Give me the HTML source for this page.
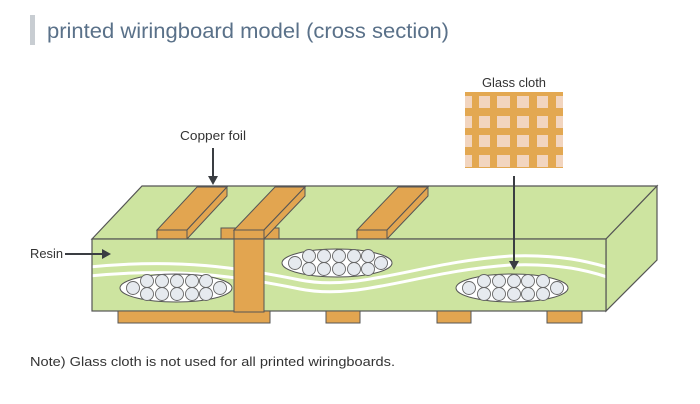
<!DOCTYPE html>
<html><head><meta charset="utf-8"><style>
html,body{margin:0;padding:0;background:#fff;width:700px;height:404px;overflow:hidden}
</style></head><body>
<svg width="700" height="404" viewBox="0 0 700 404" xmlns="http://www.w3.org/2000/svg" font-family="Liberation Sans, sans-serif">
<rect x="30" y="15" width="5" height="30" fill="#c8cdd2"/>
<text x="47" y="38" font-size="21" fill="#5a7189" textLength="402" lengthAdjust="spacingAndGlyphs">printed wiringboard model (cross section)</text>

<polygon points="92,239 142,186 657,186 606,239" fill="#cde4a0" stroke="#555" stroke-width="1.2"/>
<polygon points="606,239 657,186 657,260 606,311" fill="#cde4a0" stroke="#555" stroke-width="1.2"/>

<g fill="#e2a550" stroke="#555" stroke-width="1">
<polygon points="157,230 187,230 227,187 197,187"/>
<polygon points="187,230 187,239 227,196 227,187"/>
<rect x="157" y="230" width="30" height="9"/>
<rect x="221" y="228" width="58" height="11"/>
<polygon points="234,230 264,230 305,187 275,187"/>
<polygon points="264,230 264,239 305,196 305,187"/>
<rect x="234" y="230" width="30" height="9"/>
<polygon points="357,230 387,230 428,187 398,187"/>
<polygon points="387,230 387,239 428,196 428,187"/>
<rect x="357" y="230" width="30" height="9"/>
</g>

<clipPath id="fc"><rect x="92" y="239" width="514" height="72"/></clipPath>
<rect x="92" y="239" width="514" height="72" fill="#cde4a0"/>
<g clip-path="url(#fc)" fill="none" stroke="#fff" stroke-width="3">
<path d="M90,267 C180,258 240,268 300,280 C360,292 420,262 510,256 C560,254 590,262 610,268"/>
<path d="M90,276 C180,267 240,277 300,289 C360,301 420,271 510,265 C560,263 590,271 610,278"/>
</g>
<rect x="92" y="239" width="514" height="72" fill="none" stroke="#555" stroke-width="1.2"/>

<g stroke="#555" stroke-width="1">
<ellipse cx="176" cy="288" rx="56" ry="14" fill="#fff"/>
<ellipse cx="337" cy="263" rx="55" ry="14" fill="#fff"/>
<ellipse cx="512" cy="288" rx="56" ry="14" fill="#fff"/>
</g>
<g fill="#e6eaef" stroke="#666" stroke-width="0.9">
<circle cx="133" cy="288" r="6.5"/><circle cx="220" cy="288" r="6.5"/>
<circle cx="147" cy="281" r="6.5"/><circle cx="162" cy="281" r="6.5"/><circle cx="177" cy="281" r="6.5"/><circle cx="192" cy="281" r="6.5"/><circle cx="206" cy="281" r="6.5"/>
<circle cx="147" cy="294" r="6.5"/><circle cx="162" cy="294" r="6.5"/><circle cx="177" cy="294" r="6.5"/><circle cx="192" cy="294" r="6.5"/><circle cx="206" cy="294" r="6.5"/>

<circle cx="295" cy="263" r="6.5"/><circle cx="381" cy="263" r="6.5"/>
<circle cx="309" cy="256" r="6.5"/><circle cx="324" cy="256" r="6.5"/><circle cx="339" cy="256" r="6.5"/><circle cx="354" cy="256" r="6.5"/><circle cx="368" cy="256" r="6.5"/>
<circle cx="309" cy="269" r="6.5"/><circle cx="324" cy="269" r="6.5"/><circle cx="339" cy="269" r="6.5"/><circle cx="354" cy="269" r="6.5"/><circle cx="368" cy="269" r="6.5"/>

<circle cx="469" cy="288" r="6.5"/><circle cx="557" cy="288" r="6.5"/>
<circle cx="484" cy="281" r="6.5"/><circle cx="499" cy="281" r="6.5"/><circle cx="514" cy="281" r="6.5"/><circle cx="528" cy="281" r="6.5"/><circle cx="543" cy="281" r="6.5"/>
<circle cx="484" cy="294" r="6.5"/><circle cx="499" cy="294" r="6.5"/><circle cx="514" cy="294" r="6.5"/><circle cx="528" cy="294" r="6.5"/><circle cx="543" cy="294" r="6.5"/>
</g>

<g fill="#e2a550" stroke="#555" stroke-width="1">
<rect x="118" y="311" width="152" height="12"/>
<rect x="234" y="239" width="30" height="73"/>
<rect x="326" y="311" width="34" height="12"/>
<rect x="437" y="311" width="34" height="12"/>
<rect x="547" y="311" width="35" height="12"/>
</g>

<rect x="465" y="92" width="98" height="76" fill="#e3a851"/>
<g fill="#f2d5bf">
<rect x="465" y="96" width="7" height="12"/><rect x="479" y="96" width="11" height="12"/><rect x="497" y="96" width="13" height="12"/><rect x="517" y="96" width="12" height="12"/><rect x="537" y="96" width="11" height="12"/><rect x="556" y="96" width="7" height="12"/>
<rect x="465" y="116" width="7" height="12"/><rect x="479" y="116" width="11" height="12"/><rect x="497" y="116" width="13" height="12"/><rect x="517" y="116" width="12" height="12"/><rect x="537" y="116" width="11" height="12"/><rect x="556" y="116" width="7" height="12"/>
<rect x="465" y="135" width="7" height="12"/><rect x="479" y="135" width="11" height="12"/><rect x="497" y="135" width="13" height="12"/><rect x="517" y="135" width="12" height="12"/><rect x="537" y="135" width="11" height="12"/><rect x="556" y="135" width="7" height="12"/>
<rect x="465" y="155" width="7" height="12"/><rect x="479" y="155" width="11" height="12"/><rect x="497" y="155" width="13" height="12"/><rect x="517" y="155" width="12" height="12"/><rect x="537" y="155" width="11" height="12"/><rect x="556" y="155" width="7" height="12"/>
</g>

<g font-size="12.5" fill="#333">
<text x="180" y="140" textLength="66" lengthAdjust="spacingAndGlyphs">Copper foil</text>
<text x="30" y="258" textLength="33" lengthAdjust="spacingAndGlyphs">Resin</text>
<text x="482" y="87" textLength="64" lengthAdjust="spacingAndGlyphs">Glass cloth</text>
</g>
<g stroke="#3a3d42" stroke-width="2" fill="#3a3d42">
<line x1="213" y1="148" x2="213" y2="178"/>
<polygon points="208,176 218,176 213,185" stroke="none"/>
<line x1="65" y1="254" x2="104" y2="254"/>
<polygon points="102,249 102,259 111,254" stroke="none"/>
<line x1="514" y1="176" x2="514" y2="263"/>
<polygon points="509,261 519,261 514,270" stroke="none"/>
</g>

<text x="30" y="366" font-size="13" fill="#333" textLength="365" lengthAdjust="spacingAndGlyphs">Note) Glass cloth is not used for all printed wiringboards.</text>
</svg>
</body></html>
